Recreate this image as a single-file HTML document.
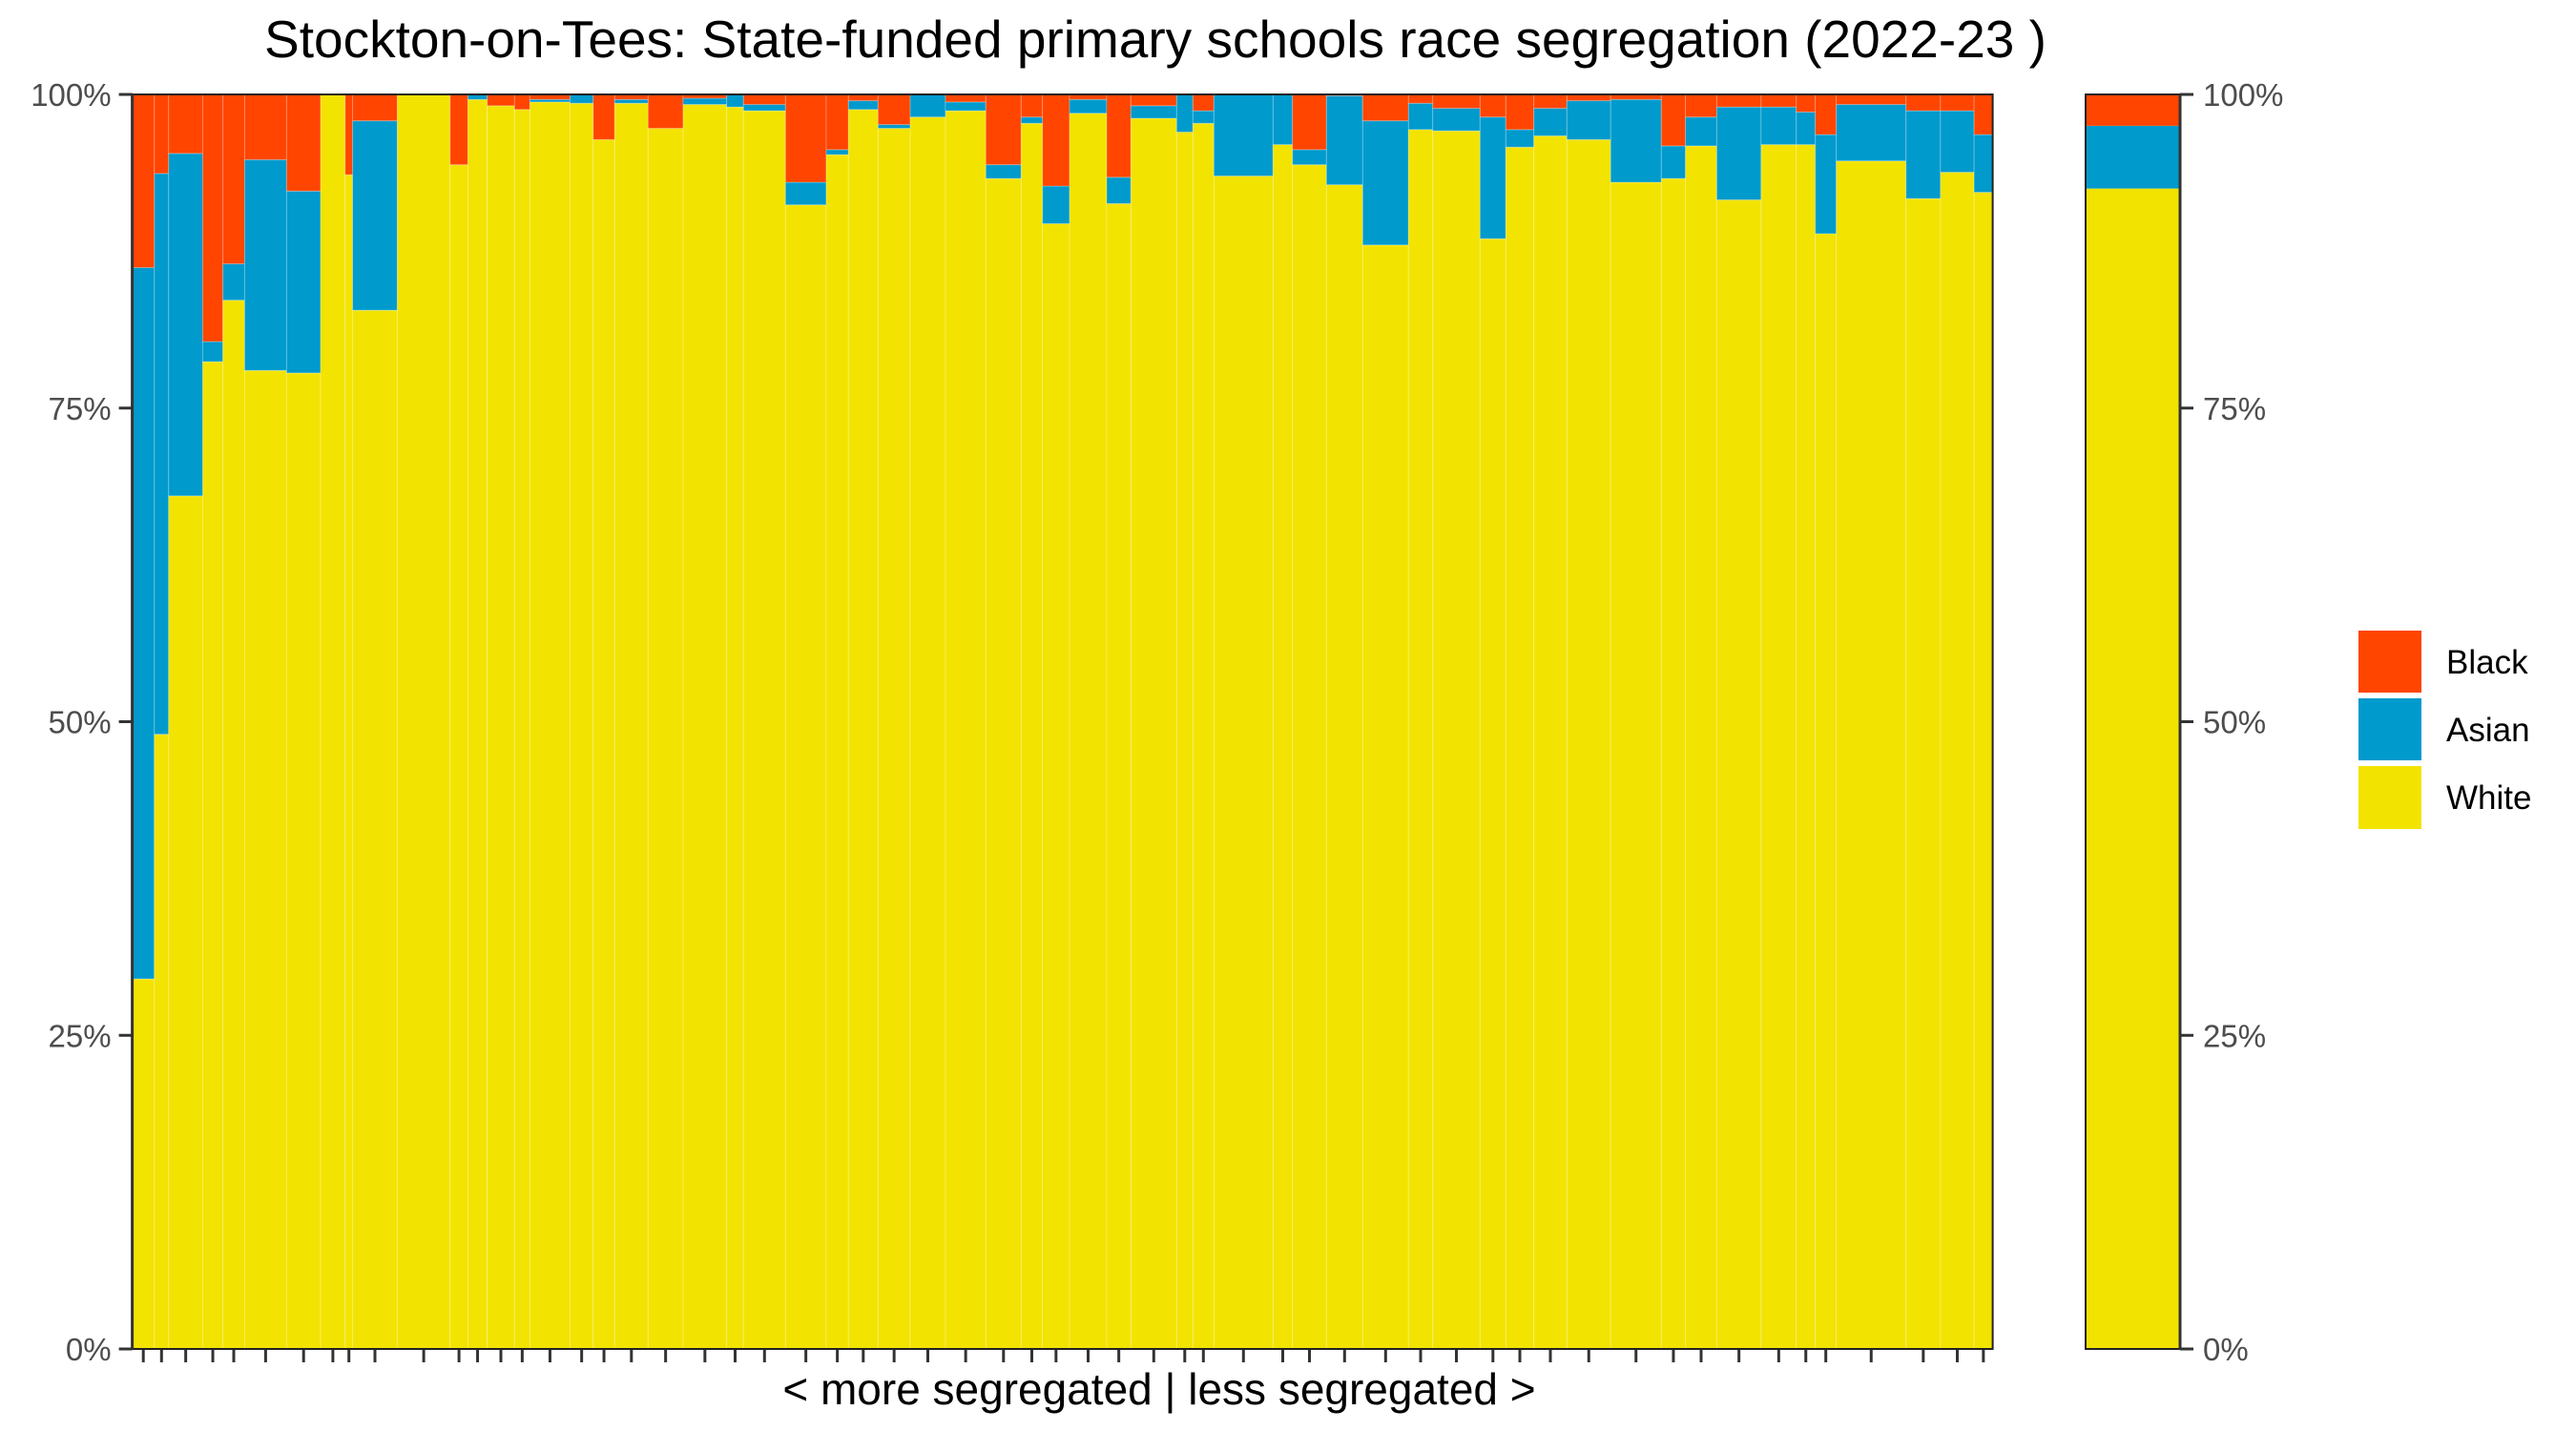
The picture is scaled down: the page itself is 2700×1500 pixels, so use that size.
<!DOCTYPE html>
<html><head><meta charset="utf-8"><style>
html,body{margin:0;padding:0;background:#fff;}
svg{display:block;font-family:"Liberation Sans",sans-serif;}
</style></head><body>
<svg id="chart" width="2700" height="1500" viewBox="0 0 2700 1500">
<text x="1211" y="60" text-anchor="middle" font-size="55" fill="#000">Stockton-on-Tees: State-funded primary schools race segregation (2022-23 )</text>
<g id="bars"></g>
<g id="axes"></g>
<text x="1215" y="1472" text-anchor="middle" font-size="46" fill="#000">&lt; more segregated | less segregated &gt;</text>
<g>
<rect x="2472" y="661" width="66" height="65" fill="#FF4500"/>
<text x="2564" y="706" font-size="35" fill="#000">Black</text>
<rect x="2472" y="732" width="66" height="65" fill="#009ACD"/>
<text x="2564" y="777" font-size="35" fill="#000">Asian</text>
<rect x="2472" y="803" width="66" height="66" fill="#F3E300"/>
<text x="2564" y="848" font-size="35" fill="#000">White</text>
</g>
</svg>
<script>
const schoolSizes = [23.2,15,35.7,21.1,22.8,44,35.6,25.8,7.8,46.8,55.4,18.6,20.3,28.6,16.1,42.1,24.3,22.5,35,36.7,45.7,17.6,44,42.7,23.3,31,33.7,37,42.3,37,22.4,28.3,39,25.3,48,17,22,62,20.4,35.6,38,48,25.4,49.6,27,29.4,34.6,45.9,53.1,25.3,32.8,46.5,36.9,19.9,22,73.1,36.1,35.2,19.5];
const whitePct = [29.5,49,68,78.7,83.6,78.0,77.8,100,93.6,82.8,100,94.4,99.6,99.1,98.8,99.4,99.3,96.4,99.3,97.3,99.2,99.0,98.7,91.2,95.2,98.8,97.3,98.2,98.7,93.3,97.7,89.7,98.5,91.3,98.1,97.0,97.7,93.5,96.0,94.4,92.8,88.0,97.2,97.1,88.5,95.8,96.7,96.4,93.0,93.3,95.9,91.6,96.0,96.0,88.9,94.7,91.7,93.8,92.2];
const asianPct = [56.7,44.7,27.3,1.6,2.9,16.8,14.5,0,0,15.1,0,0,0.4,0,0,0.2,0.7,0,0.3,0,0.5,1.0,0.5,1.8,0.4,0.7,0.3,1.8,0.7,1.1,0.5,3.0,1.1,2.1,1.0,3.0,1.0,6.5,4.0,1.2,7.1,9.9,2.1,1.8,9.7,1.4,2.2,3.1,6.6,2.6,2.3,7.4,3.0,2.6,7.9,4.5,7.0,4.9,4.6];
const blackPct = [13.8,6.3,4.7,19.7,13.5,5.2,7.7,0,6.4,2.1,0,5.6,0,0.9,1.2,0.4,0,3.6,0.4,2.7,0.3,0,0.8,7.0,4.4,0.5,2.4,0,0.6,5.6,1.8,7.3,0.4,6.6,0.9,0,1.3,0,0,4.4,0.1,2.1,0.7,1.1,1.8,2.8,1.1,0.5,0.4,4.1,1.8,1.0,1.0,1.4,3.2,0.8,1.3,1.3,3.2];
const totalWhite = 92.5, totalAsian = 5.0, totalBlack = 2.5;
const yTicks = [0,25,50,75,100];
const yTickLabels = ["0%","25%","50%","75%","100%"];

const NS = "http://www.w3.org/2000/svg";
const X0 = 138.6, X1 = 2088.6, Y0 = 1414, Y1 = 99;
const SX0 = 2186, SX1 = 2285;
const col = {white:"#F3E300", asian:"#009ACD", black:"#FF4500"};
function yScale(p){ return Y0 - (Y0 - Y1) * p / 100; }
const totalSize = schoolSizes.reduce((a,b)=>a+b,0);
function xScale(cum){ return X0 + (X1 - X0) * cum / totalSize; }
function mk(tag, attrs, parent){ const e = document.createElementNS(NS, tag); for (const k in attrs) e.setAttribute(k, attrs[k]); parent.appendChild(e); return e; }

const bars = document.getElementById('bars');
const axes = document.getElementById('axes');
let cum = 0;
for (let i = 0; i < schoolSizes.length; i++) {
  const xa = xScale(cum), xb = xScale(cum + schoolSizes[i]);
  cum += schoolSizes[i];
  const s = 100 / (whitePct[i] + asianPct[i] + blackPct[i]);
  const w = whitePct[i]*s, a = asianPct[i]*s, b = blackPct[i]*s;
  const segs = [[0,w,col.white,'white'],[w,w+a,col.asian,'asian'],[w+a,w+a+b,col.black,'black']];
  for (const [lo,hi,c,nm] of segs) {
    if (hi - lo <= 0) continue;
    const r = mk('rect', {x:xa, y:yScale(hi), width:xb-xa, height:yScale(lo)-yScale(hi), fill:c, stroke:'rgba(255,255,255,0.25)', 'stroke-width':1}, bars);
    
    
  }
  const t = mk('line', {x1:(xa+xb)/2, x2:(xa+xb)/2, y1:Y0, y2:Y0+14, stroke:'#333', 'stroke-width':3}, axes);
  
  
}
{
  const s = 100/(totalWhite+totalAsian+totalBlack);
  const w = totalWhite*s, a = totalAsian*s;
  const segs = [[0,w,col.white,'white'],[w,w+a,col.asian,'asian'],[w+a,100,col.black,'black']];
  for (const [lo,hi,c,nm] of segs) {
    const r = mk('rect', {x:SX0, y:yScale(hi), width:SX1-SX0, height:yScale(lo)-yScale(hi), fill:c}, bars);
    
    
  }
}
let p1 = mk('rect', {x:X0, y:Y1, width:X1-X0, height:Y0-Y1, fill:'none', stroke:'#222', 'stroke-width':2}, axes);


let p2 = mk('rect', {x:SX0, y:Y1, width:SX1-SX0, height:Y0-Y1, fill:'none', stroke:'#222', 'stroke-width':2}, axes);


let la = mk('line', {x1:X0, x2:X0, y1:Y1, y2:Y0, stroke:'#333', 'stroke-width':3}, axes);


let ra = mk('line', {x1:SX1, x2:SX1, y1:Y1, y2:Y0, stroke:'#333', 'stroke-width':3}, axes);


for (let i = 0; i < yTicks.length; i++) {
  const y = yScale(yTicks[i]);
  const lt = mk('line', {x1:X0-14, x2:X0, y1:y, y2:y, stroke:'#333', 'stroke-width':3}, axes);
  
  
  const rt = mk('line', {x1:SX1, x2:SX1+14, y1:y, y2:y, stroke:'#333', 'stroke-width':3}, axes);
  
  
  const tl = mk('text', {x:X0-22, y:y+12, 'text-anchor':'end', 'font-size':33, fill:'#4d4d4d'}, axes);
  tl.textContent = yTickLabels[i];
  
  
  const tr = mk('text', {x:SX1+24, y:y+12, 'text-anchor':'start', 'font-size':33, fill:'#4d4d4d'}, axes);
  tr.textContent = yTickLabels[i];
  
  
}
</script>
</body></html>
